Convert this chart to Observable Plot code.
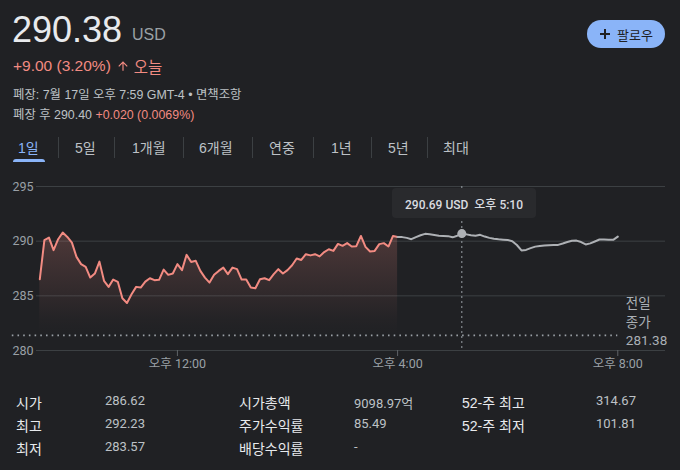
<!DOCTYPE html>
<html><head><meta charset="utf-8">
<script src="https://cdn.jsdelivr.net/npm/d3@7"></script>
<script src="https://cdn.jsdelivr.net/npm/@observablehq/plot@0.6"></script>
<style>
html,body{margin:0;padding:0;background:#202124;}
body{width:680px;height:470px;position:relative;overflow:hidden;font-family:"Liberation Sans",Arial,"Noto Sans CJK KR",sans-serif;}
.abs{position:absolute;white-space:nowrap;}
.red{color:#f28b82;}
#price{left:12px;top:9px;font-size:36px;color:#e8eaed;}
#cur{left:132px;top:26px;font-size:16px;color:#9aa0a6;}
#chg{left:13px;top:55px;font-size:15.5px;color:#f28b82;display:flex;align-items:center;}
#meta1{left:13px;top:85px;font-size:12.4px;color:#bdc1c6;}
#meta2{left:13px;top:105px;font-size:12.4px;color:#bdc1c6;}
#follow{left:587px;top:20px;width:78px;height:28px;border-radius:14px;background:#8ab4f8;color:#202124;font-size:13px;display:flex;align-items:center;justify-content:center;gap:6px;}
.tab{top:137px;font-size:14px;color:#bdc1c6;}
.tab.sel{color:#8ab4f8;}
.sep{top:137px;width:1px;height:21px;background:#3c4043;}
#uline{left:13px;top:159px;width:32px;height:3px;border-radius:3px 3px 0 0;background:#8ab4f8;}
#chart{left:0;top:170px;}
#tip{left:392px;top:188px;width:144px;height:30px;background:#292a2d;border-radius:4px;color:#dadce0;font-family:Roboto,"Noto Sans CJK KR",sans-serif;font-size:12px;font-weight:500;display:flex;align-items:center;justify-content:center;}
.lab{font-size:14px;color:#e8eaed;}
.val{font-size:13px;color:#bdc1c6;font-family:Roboto,"Noto Sans CJK KR",sans-serif;}
</style></head>
<body>
<div id="root"></div>
<script>
// ---- data ----
const regularPrices = [286.52,290.09,290.33,289.18,290.18,290.79,290.39,289.87,288.56,287.90,
 287.65,286.67,287.04,288.13,286.37,285.82,286.49,286.28,284.78,284.35,
 285.15,285.82,285.76,286.30,286.61,286.43,286.46,287.40,286.92,287.04,
 287.90,287.35,288.75,288.10,288.20,287.28,286.67,286.21,286.92,287.28,
 287.58,286.98,287.58,287.44,286.49,286.49,285.76,285.70,286.52,286.61,
 286.43,286.98,287.44,287.04,287.35,287.80,288.42,288.28,288.81,288.70,
 288.81,288.61,289.00,289.26,289.11,289.75,289.57,289.82,289.51,289.54,
 290.48,289.48,289.05,289.11,289.73,289.82,289.51,290.48,290.39];
const afterPrices = [290.39,290.37,290.30,290.18,290.37,290.54,290.67,290.64,290.57,290.50,
 290.48,290.46,290.35,290.50,290.69,290.62,290.55,290.50,290.58,290.42,
 290.30,290.23,290.17,290.14,290.11,290.00,289.65,289.15,289.20,289.36,
 289.50,289.56,289.60,289.62,289.64,289.66,289.78,289.92,290.04,290.05,
 289.92,289.70,289.80,289.97,290.15,290.15,290.12,290.12,290.42];
const regularStart = 570;   // 9:30 (minutes after midnight)
const afterStart = 960;     // 16:00
const stepMinutes = 5;
const prevClose = 281.38;
const prevCloseSpan = [540, 1200];
const yTicks = [280, 285, 290, 295];
const xTicks = [720, 960, 1200];
const xTickLabels = ["오후 12:00", "오후 4:00", "오후 8:00"];
const hover = {t: 1030, p: 290.69, label: "오후 5:10"};

const tabs = ["1일","5일","1개월","6개월","연중","1년","5년","최대"];
const statLabels1 = ["시가","최고","최저"];
const statValues1 = ["286.62","292.23","283.57"];
const statLabels2 = ["시가총액","주가수익률","배당수익률"];
const statValues2 = ["9098.97억","85.49","-"];
const statLabels3 = ["52-주 최고","52-주 최저"];
const statValues3 = ["314.67","101.81"];

// ---- layout ----
const root = document.getElementById("root");
function add(html){ root.insertAdjacentHTML("beforeend", html); }
add(`<div class="abs" id="price">290.38</div>`);
add(`<div class="abs" id="cur">USD</div>`);
add(`<div class="abs" id="chg">+9.00 (3.20%)<svg width="14" height="14" viewBox="0 0 24 24" style="margin:0 4px 0 5px"><path fill="#f28b82" d="M4 12l1.41 1.41L11 7.83V20h2V7.83l5.58 5.59L20 12l-8-8-8 8z"/></svg>오늘</div>`);
add(`<div class="abs" id="meta1">폐장: 7월 17일 오후 7:59 GMT-4 • 면책조항</div>`);
add(`<div class="abs" id="meta2">폐장 후 290.40 <span class="red">+0.020 (0.0069%)</span></div>`);
add(`<div class="abs" id="follow"><svg width="12" height="12" viewBox="0 0 12 12"><path d="M6 1v10M1 6h10" stroke="#202124" stroke-width="2"/></svg><span>팔로우</span></div>`);
const tabX = [18,75,132,199,269,331,388,443];
const sepX = [58,114,183,252,313,371,427];
tabs.forEach((t,i)=>add(`<div class="abs tab${i===0?" sel":""}" style="left:${tabX[i]}px">${t}</div>`));
sepX.forEach(x=>add(`<div class="abs sep" style="left:${x}px"></div>`));
add(`<div class="abs" id="uline"></div>`);
const rowY = [392,415,438];
statLabels1.forEach((l,i)=>add(`<div class="abs lab" style="left:16px;top:${rowY[i]}px">${l}</div><div class="abs val" style="left:105px;top:${rowY[i]+1}px">${statValues1[i]}</div>`));
statLabels2.forEach((l,i)=>add(`<div class="abs lab" style="left:239px;top:${rowY[i]}px">${l}</div><div class="abs val" style="left:354px;top:${rowY[i]+1}px">${statValues2[i]}</div>`));
statLabels3.forEach((l,i)=>add(`<div class="abs lab" style="left:462px;top:${rowY[i]}px">${l}</div><div class="abs val" style="left:596px;top:${rowY[i]+1}px">${statValues3[i]}</div>`));

// ---- chart ----
const regular = regularPrices.map((p,i)=>({t: regularStart + stepMinutes*i, p}));
const after = afterPrices.map((p,i)=>({t: afterStart + stepMinutes*i, p}));

const chart = Plot.plot({
  width: 680, height: 205,
  marginLeft: 36, marginRight: 15, marginTop: 16, marginBottom: 25,
  style: {background: "transparent", color: "#9aa0a6", fontSize: "12px", fontFamily: "Roboto, 'Noto Sans CJK KR', sans-serif", overflow: "visible"},
  x: {type: "linear", domain: [566.4, 1252], label: null},
  y: {domain: [280, 295], label: null},
  marks: [
    Plot.ruleY(yTicks, {stroke: "#3c4043", strokeWidth: 1}),
    Plot.areaY(regular, {x: "t", y1: prevClose, y2: "p", fill: "url(#redGrad)", curve: "linear"}),
    Plot.ruleY([prevClose], {x1: prevCloseSpan[0], x2: prevCloseSpan[1], stroke: "#9aa0a6", strokeWidth: 1.6, strokeDasharray: "1.6,4.1"}),
    Plot.ruleX([hover.t], {stroke: "#9aa0a6", strokeWidth: 1, strokeDasharray: "2,3"}),
    Plot.line(regular, {x: "t", y: "p", stroke: "#f28b82", strokeWidth: 2}),
    Plot.line(after, {x: "t", y: "p", stroke: "#aeb1b5", strokeWidth: 2}),
    Plot.dot([hover], {x: "t", y: "p", r: 4.5, fill: "#aeb1b5"}),
    Plot.text([prevClose], {x: prevCloseSpan[1], y: d => d, text: d => `전일\n종가\n${d}`, textAnchor: "start", lineAnchor: "bottom", dx: 8, dy: 9.5, lineHeight: 1.35, fill: "#aab0b6", fontSize: 13.5}),
    Plot.axisY(yTicks, {tickSize: 0, tickPadding: 3, fill: "#9aa0a6", fontSize: 12.5}),
    Plot.axisX(xTicks, {tickSize: 6, tickPadding: 3, stroke: "#5f6368", fill: "#9aa0a6", tickFormat: (d,i) => xTickLabels[xTicks.indexOf(d)], fontSize: 12.5})
  ]
});
chart.insertAdjacentHTML("afterbegin", `<defs><linearGradient id="redGrad" x1="0" y1="0" x2="0" y2="1"><stop offset="0" stop-color="#f28b82" stop-opacity="0.22"/><stop offset="0.85" stop-color="#f28b82" stop-opacity="0.02"/><stop offset="1" stop-color="#f28b82" stop-opacity="0"/></linearGradient></defs>`);
const wrap = document.createElement("div");
wrap.className = "abs"; wrap.id = "chart";
wrap.appendChild(chart);
root.appendChild(wrap);
add(`<div class="abs" id="tip">${hover.p.toFixed(2)} USD&nbsp;&nbsp;${hover.label}</div>`);
</script>
</body></html>
